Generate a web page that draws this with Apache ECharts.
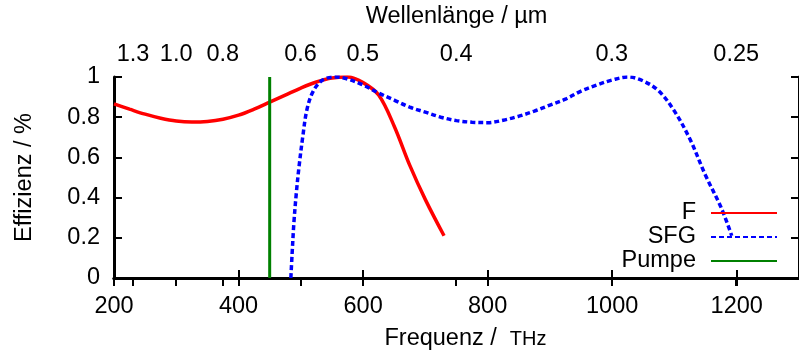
<!DOCTYPE html>
<html>
<head>
<meta charset="utf-8">
<script src="https://cdn.jsdelivr.net/npm/echarts@6/dist/echarts.min.js"></script>
<style>
  html, body { margin: 0; padding: 0; background: #ffffff; }
  #chart { width: 799px; height: 356px; }
</style>
</head>
<body>
<div id="chart"></div>
<script>
// Efficiency curves over frequency (THz)
const freqF = [200, 225, 250, 275, 300, 325, 350, 375, 400, 425, 450, 475, 500, 525, 550, 575, 600, 625, 650, 675, 700, 730];
const effF  = [0.866, 0.84, 0.815, 0.795, 0.781, 0.776, 0.779, 0.79, 0.81, 0.84, 0.875, 0.91, 0.945, 0.975, 0.995, 1.0, 0.972, 0.91, 0.755, 0.56, 0.39, 0.21];

const freqSFG = [484, 486, 489, 493, 497, 503, 510, 520, 535, 555, 575, 600, 625, 650, 675, 700, 725, 750, 775, 800, 825, 850, 875, 900, 925, 950, 975, 1000, 1025, 1050, 1075, 1100, 1125, 1150, 1175, 1192];
const effSFG  = [0, 0.12, 0.28, 0.43, 0.55, 0.7, 0.84, 0.93, 0.985, 1.0, 0.99, 0.96, 0.92, 0.885, 0.85, 0.825, 0.8, 0.783, 0.775, 0.773, 0.785, 0.805, 0.83, 0.86, 0.89, 0.93, 0.96, 0.985, 1.0, 0.98, 0.93, 0.83, 0.69, 0.51, 0.35, 0.21];

// Pump frequency (THz)
const pumpFreq = 450;
const pumpEff = [0, 1];

// Axis ticks
const freqTicks = [200, 400, 600, 800, 1000, 1200];
const effTicks = [0, 0.2, 0.4, 0.6, 0.8, 1];
const wavelengthTicks = [1.3, 1.0, 0.8, 0.6, 0.5, 0.4, 0.3, 0.25];
const wavelengthLabels = ['1.3', '1.0', '0.8', '0.6', '0.5', '0.4', '0.3', '0.25'];

const C_UM_THZ = 299.792458; // speed of light in µm·THz
const wavelengthPos = wavelengthTicks.map(l => C_UM_THZ / l);

const zip = (xs, ys) => xs.map((x, i) => [x, ys[i]]);

const FONT = '"Liberation Sans", Arial, Helvetica, sans-serif';
const FS = 23.5;
const axisLine = { show: true, lineStyle: { color: '#000', width: 3 } };
const tick = { show: true, inside: true, length: 8, lineStyle: { color: '#000', width: 2 } };

const chart = echarts.init(document.getElementById('chart'), null, { renderer: 'canvas' });

chart.setOption({
  animation: false,
  backgroundColor: '#ffffff',
  textStyle: { fontFamily: FONT },
  grid: { left: 114, top: 77, width: 691, height: 203, containLabel: false },
  legend: {
    data: ['F', 'SFG', 'Pumpe'],
    orient: 'vertical',
    right: 16,
    top: 196,
    align: 'right',
    itemWidth: 66,
    itemHeight: 14,
    itemGap: 0,
    itemStyle: { opacity: 0 },
    textStyle: { fontSize: FS, color: '#000', fontFamily: FONT, padding: [0, 10, 0, 0] }
  },
  xAxis: [
    {
      type: 'value', position: 'bottom', min: 200, max: 1300, interval: 200,
      name: '{a|Frequenz /  }{b|THz}', nameLocation: 'middle', nameGap: 49,
      nameTextStyle: {
        padding: [0, 0, 0, 18],
        rich: {
          a: { fontSize: FS, color: '#000', fontFamily: FONT },
          b: { fontSize: 20, color: '#000', fontFamily: FONT }
        }
      },
      axisLine: axisLine, axisTick: Object.assign({}, tick, { customValues: freqTicks }),
      axisLabel: { fontSize: FS, color: '#000', margin: 17, customValues: freqTicks, formatter: v => String(v) },
      splitLine: { show: false }
    },
    {
      type: 'value', position: 'top', min: 200, max: 1300,
      name: 'Wellenlänge / µm', nameLocation: 'middle', nameGap: 48,
      nameTextStyle: { fontSize: FS, color: '#000', fontFamily: FONT },
      axisLine: axisLine,
      axisTick: Object.assign({}, tick, { customValues: wavelengthPos.concat(freqTicks) }),
      axisLabel: {
        fontSize: FS, color: '#000', margin: 10, customValues: wavelengthPos,
        formatter: v => {
          let best = 0;
          wavelengthPos.forEach((p, i) => { if (Math.abs(p - v) < Math.abs(wavelengthPos[best] - v)) best = i; });
          return wavelengthLabels[best];
        }
      },
      splitLine: { show: false }
    }
  ],
  yAxis: [
    {
      type: 'value', position: 'left', min: 0, max: 1, interval: 0.2,
      name: 'Effizienz / %', nameLocation: 'middle', nameGap: 77,
      nameTextStyle: { fontSize: FS, color: '#000', fontFamily: FONT },
      axisLine: axisLine, axisTick: tick,
      axisLabel: { fontSize: FS, color: '#000', margin: 14, customValues: effTicks },
      splitLine: { show: false }
    },
    {
      type: 'value', position: 'right', min: 0, max: 1, interval: 0.2,
      axisLine: axisLine, axisTick: tick,
      axisLabel: { show: false },
      splitLine: { show: false }
    }
  ],
  series: [
    {
      name: 'F', type: 'line', data: zip(freqF, effF),
      symbol: 'none', smooth: 0.35,
      lineStyle: { color: '#ff0000', width: 3.5 }, itemStyle: { color: '#ff0000' }
    },
    {
      name: 'SFG', type: 'line', data: zip(freqSFG, effSFG),
      symbol: 'none', smooth: 0.35,
      lineStyle: { color: '#0000ff', width: 3.5, type: [5, 3] }, itemStyle: { color: '#0000ff' }
    },
    {
      name: 'Pumpe', type: 'line', data: pumpEff.map(e => [pumpFreq, e]),
      symbol: 'none',
      lineStyle: { color: '#008000', width: 3 }, itemStyle: { color: '#008000' }
    }
  ]
});
</script>
</body>
</html>
